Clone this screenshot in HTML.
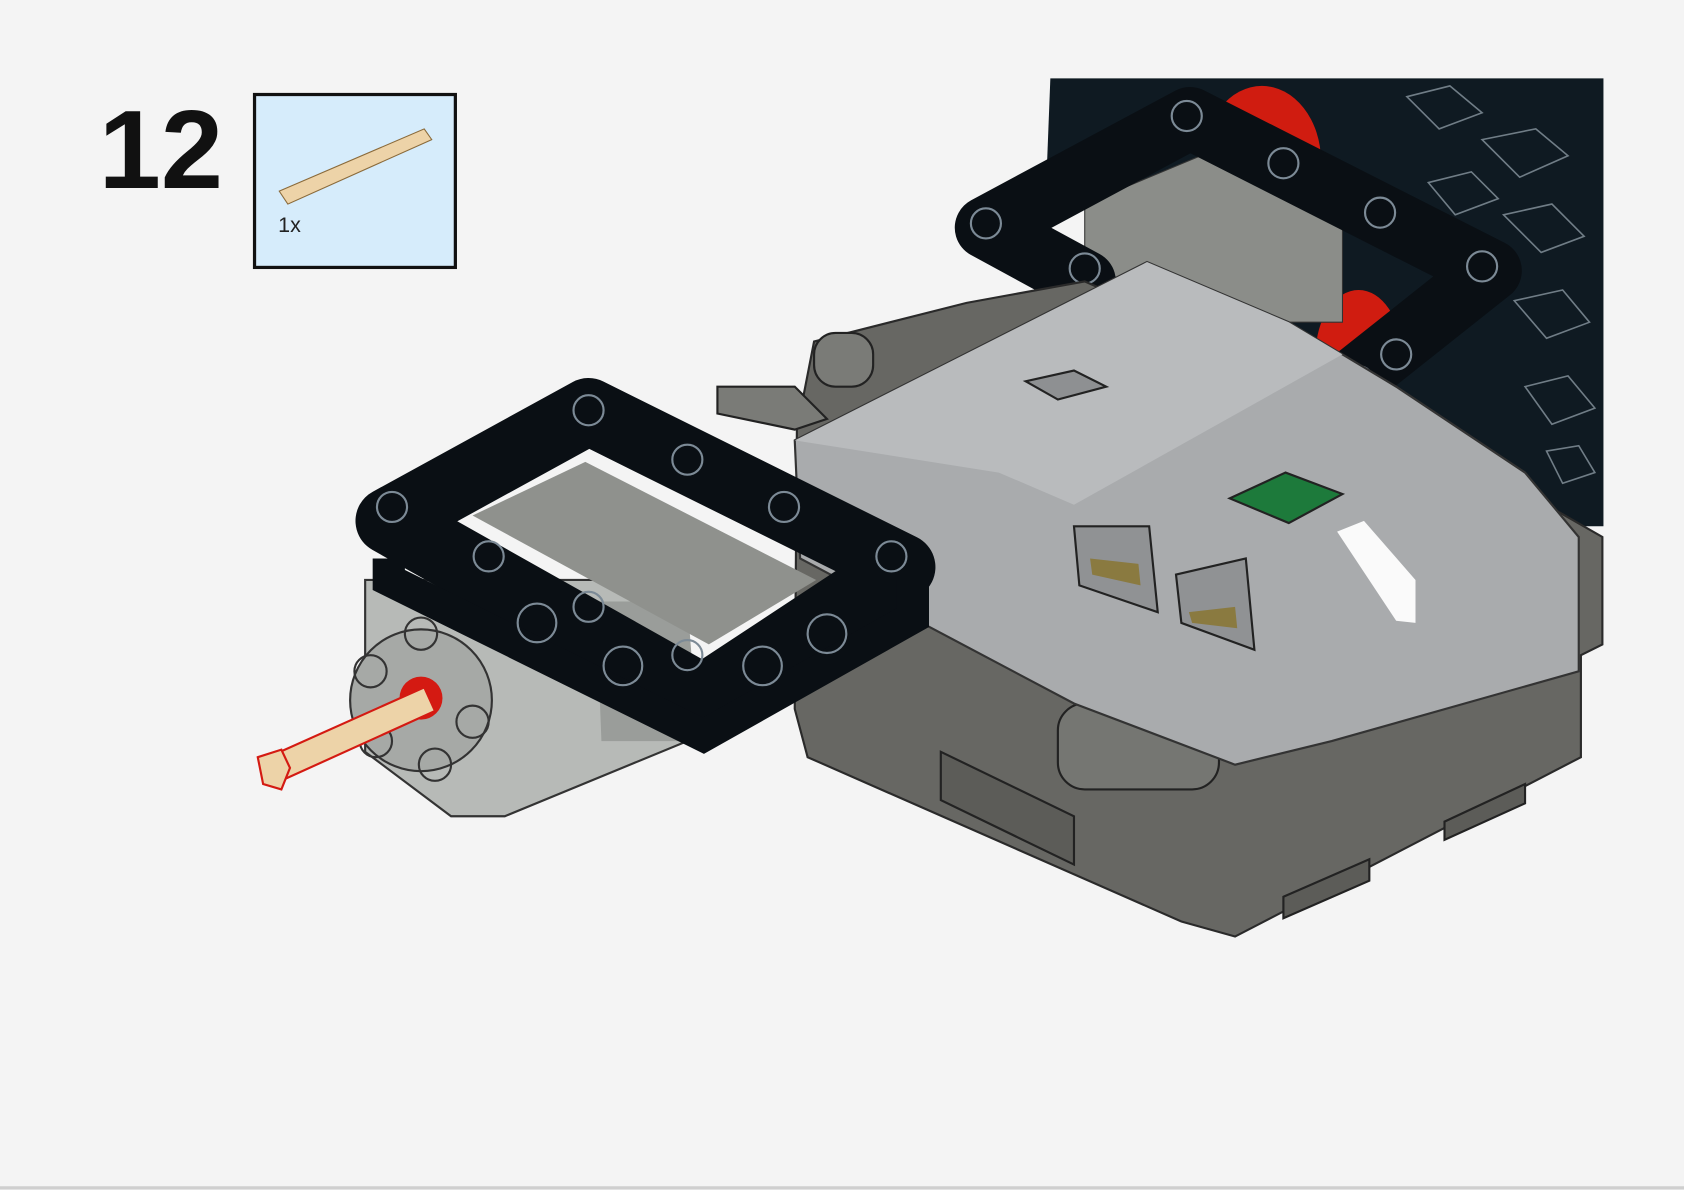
<!DOCTYPE html>
<html><head><meta charset="utf-8"><style>
html,body{margin:0;padding:0;background:#f4f4f4;}
svg{display:block;}
</style></head><body>
<svg width="1684" height="1190" viewBox="0 0 1568 1108" preserveAspectRatio="none" xmlns="http://www.w3.org/2000/svg">
<rect width="1568" height="1108" fill="#f4f4f4"/>
<line x1="0" y1="1106" x2="1568" y2="1106" stroke="#cfcfcf" stroke-width="3"/>
<text x="92" y="175" font-family="Liberation Sans, sans-serif" font-weight="bold" font-size="104" fill="#111">12</text>
<rect x="237" y="88" width="187" height="161" fill="#d6ecfb" stroke="#111" stroke-width="3"/>
<polygon points="260,178 395,120 402,130 268,190" fill="#edd3a8" stroke="#8a6a3a" stroke-width="1"/>
<text x="259" y="216" font-family="Liberation Sans, sans-serif" font-size="20" fill="#222">1x</text>

<!-- tire -->
<path d="M978,73 L1493,73 L1493,490 L1420,490 L1300,420 L1100,260 L975,150 Z" fill="#0f1a22"/>
<g stroke="#8896a0" stroke-width="1.5" fill="none" opacity="0.8">
<path d="M1310,90 l40,-10 l30,25 l-40,15z M1380,130 l50,-10 l30,25 l-45,20z M1400,200 l45,-10 l30,30 l-40,15z M1410,280 l45,-10 l25,30 l-40,15z M1420,360 l40,-10 l25,30 l-40,15z M1330,170 l40,-10 l25,25 l-40,15z M1440,420 l30,-5 l15,25 l-30,10z"/>
</g>
<ellipse cx="1175" cy="150" rx="55" ry="70" fill="#d01c10"/>
<ellipse cx="1265" cy="330" rx="40" ry="60" fill="#d01c10"/>

<!-- rear grey motor -->
<polygon points="1010,190 1130,140 1250,200 1250,300 1140,300 1010,250" fill="#8b8d89" stroke="#333" stroke-width="1"/>

<!-- upper black frame -->
<path d="M1010,262 L918,212 L1108,110 L1388,252 L1262,352" fill="none" stroke="#0a0f14" stroke-width="58" stroke-linejoin="round" stroke-linecap="round"/>
<g fill="none" stroke="#7c8a96" stroke-width="2">
<circle cx="1105" cy="108" r="14"/><circle cx="1195" cy="152" r="14"/><circle cx="1285" cy="198" r="14"/><circle cx="1380" cy="248" r="14"/><circle cx="918" cy="208" r="14"/><circle cx="1010" cy="250" r="14"/><circle cx="1300" cy="330" r="14"/><circle cx="1265" cy="355" r="14"/>
</g>

<!-- hub dark base -->
<polygon points="742,400 758,318 900,282 1010,262 1300,390 1492,500 1492,600 1472,610 1472,705 1150,872 1100,858 752,705 740,660" fill="#676763" stroke="#2a2a2a" stroke-width="2"/>
<rect x="758" y="310" width="55" height="50" rx="20" fill="#7a7b77" stroke="#222" stroke-width="2"/>
<rect x="985" y="655" width="150" height="80" rx="25" fill="#757672" stroke="#222" stroke-width="2"/>
<polygon points="876,700 1000,760 1000,805 876,745" fill="#5c5c58" stroke="#222" stroke-width="2"/>
<polygon points="1195,835 1275,800 1275,820 1195,855" fill="#5c5c58" stroke="#222" stroke-width="2"/>
<polygon points="1345,765 1420,730 1420,748 1345,782" fill="#5c5c58" stroke="#222" stroke-width="2"/>
<polygon points="668,360 740,360 770,390 740,400 668,385" fill="#7a7b77" stroke="#222" stroke-width="2"/>

<!-- hub light top -->
<polygon points="740,410 1068,244 1200,300 1300,360 1420,440 1470,500 1470,625 1240,690 1150,712 1000,655 745,520" fill="#a9abad" stroke="#333" stroke-width="2"/>
<polygon points="740,410 1068,244 1200,300 1250,330 1000,470 930,440" fill="#b9bbbd"/>
<polygon points="1145,464 1197,440 1250,460 1200,487" fill="#1d7a3b" stroke="#222" stroke-width="2"/>
<polygon points="1245,495 1270,485 1318,540 1318,580 1300,578" fill="#fafafa"/>
<polygon points="955,355 1000,345 1030,360 985,372" fill="#8e9092" stroke="#222" stroke-width="2"/>
<polygon points="1000,490 1070,490 1078,570 1005,545" fill="#909294" stroke="#222" stroke-width="2"/>
<polygon points="1095,535 1160,520 1168,605 1100,580" fill="#909294" stroke="#222" stroke-width="2"/>
<polygon points="1015,520 1060,525 1062,545 1017,535" fill="#8a7a40"/>
<polygon points="1107,570 1150,565 1152,585 1110,580" fill="#8a7a40"/>

<!-- left motor -->
<polygon points="340,540 620,540 640,690 470,760 420,760 340,700" fill="#b7bab7" stroke="#333" stroke-width="2"/>
<polygon points="555,560 640,560 650,690 560,690" fill="#9a9d9a"/>
<circle cx="392" cy="652" r="66" fill="#a6a9a6" stroke="#333" stroke-width="2"/>
<g fill="none" stroke="#333" stroke-width="2">
<circle cx="392" cy="590" r="15"/><circle cx="345" cy="625" r="15"/><circle cx="350" cy="690" r="15"/><circle cx="405" cy="712" r="15"/><circle cx="440" cy="672" r="15"/>
</g>
<!-- frame interior grey -->
<polygon points="440,480 545,430 760,540 660,600" fill="#8f918d"/>

<!-- lower black frame -->
<path d="M362,485 L548,383 L840,528 L655,650 Z" fill="none" stroke="#0a0f14" stroke-width="62" stroke-linejoin="round"/>
<path d="M362,520 L362,540 L655,685 L850,575 L850,540" fill="none" stroke="#0a0f14" stroke-width="30"/>
<g fill="none" stroke="#7c8a96" stroke-width="2">
<circle cx="548" cy="382" r="14"/><circle cx="640" cy="428" r="14"/><circle cx="730" cy="472" r="14"/><circle cx="830" cy="518" r="14"/><circle cx="365" cy="472" r="14"/><circle cx="455" cy="518" r="14"/><circle cx="548" cy="565" r="14"/><circle cx="640" cy="610" r="14"/>
<circle cx="500" cy="580" r="18"/><circle cx="580" cy="620" r="18"/><circle cx="710" cy="620" r="18"/><circle cx="770" cy="590" r="18"/>
</g>

<!-- axle -->
<circle cx="392" cy="650" r="20" fill="#d41a12"/>
<polygon points="243,708 395,640 405,662 255,730" fill="#edd3a8" stroke="#d41a12" stroke-width="2"/>
<polygon points="240,705 262,698 270,715 262,735 245,730" fill="#edd3a8" stroke="#d41a12" stroke-width="2"/>
</svg>
</body></html>
